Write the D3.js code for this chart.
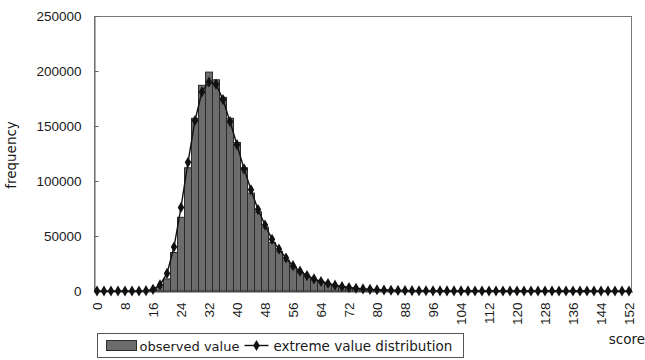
<!DOCTYPE html>
<html>
<head>
<meta charset="utf-8">
<script src="https://cdn.jsdelivr.net/npm/d3@7"></script>
<style>
  body { margin: 0; background: #fff; }
  svg { display: block; font-family: "DejaVu Sans", Verdana, sans-serif; }
</style>
</head>
<body>
<svg id="chart" width="645" height="360"></svg>
<script>
// score bins (step 2)
const scores = [0,2,4,6,8,10,12,14,16,18,20,22,24,26,28,30,32,34,36,38,40,42,44,46,48,50,
  52,54,56,58,60,62,64,66,68,70,72,74,76,78,80,82,84,86,88,90,92,94,96,98,100,
  102,104,106,108,110,112,114,116,118,120,122,124,126,128,130,132,134,136,138,140,
  142,144,146,148,150,152]

const xTickLabels = [0,8,16,24,32,40,48,56,64,72,80,88,96,104,112,120,128,136,144,152]
const yTickLabels = [0,50000,100000,150000,200000,250000]

// observed frequencies (bars)
const observed = [0,0,0,0,0,0,0,0,
  800,3500,11000,35000,67000,112000,157000,187000,199000,192000,
  176000,157000,135000,112000,89000,72000,58000,44000,36000,28000,
  22000,17000,13000,10000,8000,6200,4800,3700,2900,2200,
  1700,1300,1000,800,600,450,350,270,200,150,120,90,70,
  50,40,30,25,20,15,12,10,8,6,5,4,3,3,2,2,1,1,1,1,0,0,0,0,0,0]

// extreme value distribution fit (line + markers)
const fitted = [0,0,0,0,0,0,0,
  300,1500,5500,16000,40000,76000,117000,155000,181000,190000,
  188000,174000,154000,133000,111000,92000,74000,60000,47000,38000,
  30000,23000,18000,14000,11000,8600,6800,5300,4100,3200,
  2500,1900,1500,1150,900,700,540,420,330,250,200,150,120,90,
  70,55,45,35,28,22,17,13,10,8,6,5,4,3,3,2,2,1,1,1,1,0,0,0,0,0]

const svg = d3.select('#chart')
const margin = {top: 16, right: 14, bottom: 69, left: 94}
const width = 645, height = 360
const x0 = margin.left, x1 = width - margin.right
const y0 = height - margin.bottom, y1 = margin.top

const x = d3.scaleBand()
  .domain(scores)
  .range([x0 - 0.5, x1 + 1.5])
  .padding(0)

const y = d3.scaleLinear()
  .domain([0, 250000])
  .range([y0, y1])

// frame
svg.append('rect')
  .attr('x', x0 + 0.5).attr('y', y1 + 0.5)
  .attr('width', x1 - x0).attr('height', y0 - y1)
  .attr('fill', 'none').attr('stroke', '#777')

// bars
svg.append('g')
  .selectAll('rect')
  .data(observed)
  .join('rect')
    .attr('x', (d, i) => x(scores[i]))
    .attr('y', d => y(d))
    .attr('width', x.bandwidth())
    .attr('height', d => y(0) - y(d))
    .attr('fill', '#6c6c6c')
    .attr('stroke', '#2a2a2a')
    .attr('stroke-width', 1)

// y axis
const yAxis = svg.append('g')
  .attr('transform', 'translate(' + (x0 + 0.5) + ',0)')
  .call(d3.axisLeft(y).tickValues(yTickLabels).tickFormat(d3.format('d'))
    .tickSizeInner(-4).tickSizeOuter(0).tickPadding(13))
yAxis.select('.domain').attr('stroke', '#666')
yAxis.selectAll('line').attr('stroke', '#666')
yAxis.selectAll('text').attr('font-size', 13.5).attr('fill', '#1a1a1a')

// x axis
const xAxis = svg.append('g')
  .attr('transform', 'translate(0,' + (y0 + 0.5) + ')')
  .call(d3.axisBottom(x).tickValues(xTickLabels).tickSize(0).tickSizeOuter(0))
xAxis.select('.domain').attr('stroke', '#444')
xAxis.selectAll('text')
  .attr('font-size', 13.5).attr('fill', '#1a1a1a')
  .attr('transform', 'rotate(-90)')
  .attr('x', -11).attr('y', 0).attr('dy', '0.35em')
  .style('text-anchor', 'end')

// fitted line
const cx = s => x(s) + x.bandwidth() / 2
svg.append('path')
  .datum(fitted)
  .attr('fill', 'none')
  .attr('stroke', '#111')
  .attr('stroke-width', 1.4)
  .attr('d', d3.line().x((d, i) => cx(scores[i])).y(d => y(d)))

svg.append('g')
  .selectAll('path')
  .data(fitted)
  .join('path')
    .attr('transform', (d, i) => 'translate(' + cx(scores[i]) + ',' + y(d) + ')')
    .attr('d', d3.symbol(d3.symbolDiamond, 36))
    .attr('fill', '#111')

// axis titles
svg.append('text')
  .attr('transform', 'translate(16,155) rotate(-90)')
  .attr('text-anchor', 'middle')
  .attr('font-size', 13.5).attr('fill', '#1a1a1a')
  .text('frequency')

svg.append('text')
  .attr('x', 645).attr('y', 344)
  .attr('text-anchor', 'end')
  .attr('font-size', 13.5).attr('fill', '#1a1a1a')
  .text('score')

// legend
const lg = svg.append('g').attr('transform', 'translate(97.5,333.5)')
lg.append('rect')
  .attr('width', 366).attr('height', 24)
  .attr('fill', '#fff').attr('stroke', '#555')
lg.append('rect')
  .attr('x', 9).attr('y', 7).attr('width', 30).attr('height', 10)
  .attr('fill', '#6c6c6c').attr('stroke', '#2a2a2a')
lg.append('text')
  .attr('x', 42).attr('y', 17)
  .attr('font-size', 13).attr('fill', '#1a1a1a')
  .text('observed value')
lg.append('line')
  .attr('x1', 147).attr('x2', 171).attr('y1', 12).attr('y2', 12)
  .attr('stroke', '#111').attr('stroke-width', 1.4)
lg.append('path')
  .attr('transform', 'translate(159,12)')
  .attr('d', d3.symbol(d3.symbolDiamond, 36))
  .attr('fill', '#111')
lg.append('text')
  .attr('x', 176).attr('y', 17)
  .attr('font-size', 13.5).attr('fill', '#1a1a1a')
  .text('extreme value distribution')
</script>
</body>
</html>
